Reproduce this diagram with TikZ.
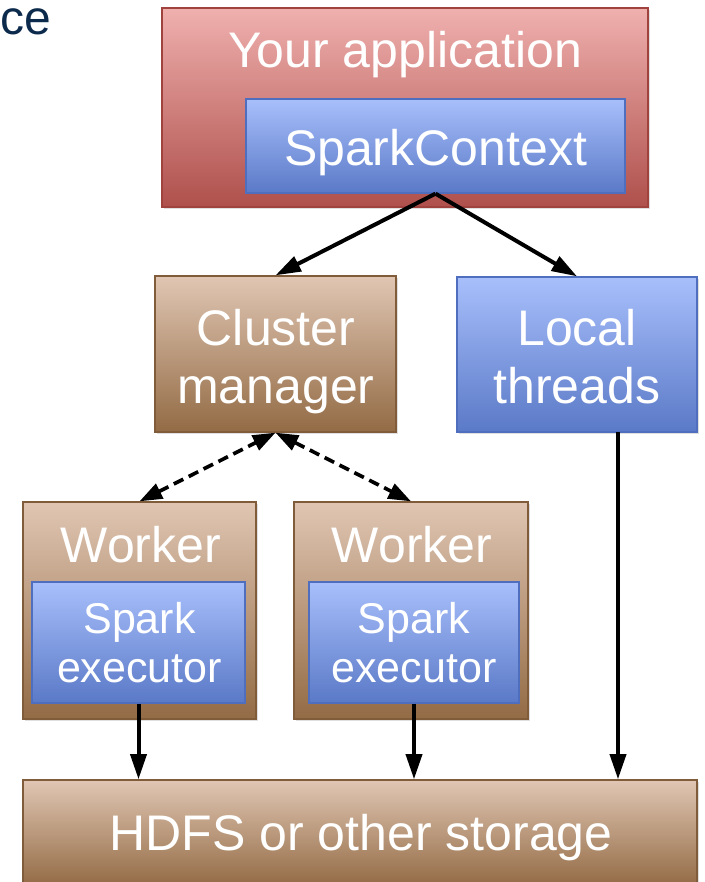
\documentclass[tikz,border=0pt]{standalone}
\usepackage{fontspec}
\setmainfont{Liberation Sans}
\usetikzlibrary{arrows.meta,shadows}

\definecolor{redtop}{RGB}{239,176,174}
\definecolor{redmid}{RGB}{225,155,152}
\definecolor{redbot}{RGB}{175,80,76}
\definecolor{redline}{RGB}{160,66,62}
\definecolor{bluetop}{RGB}{168,191,251}
\definecolor{bluemid}{RGB}{148,172,240}
\definecolor{bluebot}{RGB}{90,121,199}
\definecolor{blueline}{RGB}{80,110,190}
\definecolor{tantop}{RGB}{224,198,179}
\definecolor{tanmid}{RGB}{213,182,158}
\definecolor{tanbot}{RGB}{147,107,69}
\definecolor{tanline}{RGB}{128,92,58}
\definecolor{navy}{RGB}{12,42,76}

\tikzset{every picture/.style={line width=0.75pt}}
\tikzset{
  boxshadow/.style={drop shadow={opacity=0.25,shadow xshift=1.5pt,shadow yshift=-1.5pt}},
  redbox/.style={draw=redline,line width=1pt,top color=redtop,middle color=redmid,bottom color=redbot,boxshadow,inner sep=0pt},
  bluebox/.style={draw=blueline,line width=1pt,top color=bluetop,middle color=bluemid,bottom color=bluebot,inner sep=0pt},
  tanbox/.style={draw=tanline,line width=1pt,top color=tantop,middle color=tanmid,bottom color=tanbot,boxshadow,inner sep=0pt},
  bigtext/.style={text=white,inner sep=0pt,font=\fontsize{37.5}{43.5}\selectfont,align=center},
  smalltext/.style={text=white,inner sep=0pt,font=\fontsize{32.25}{36.75}\selectfont,align=center},
  flow/.style={line width=3pt,-{Triangle[length=19pt,width=12pt]}},
  talk/.style={line width=2.75pt,dash pattern=on 8pt off 4.5pt,{Triangle[length=17pt,width=12pt]}-{Triangle[length=17pt,width=12pt]}}
}

\begin{document}
\begin{tikzpicture}[x=0.75pt,y=0.75pt,yscale=-1,xscale=1]
	\useasboundingbox (0,0) rectangle (705,882);

	% Text Node
	\node (cetxt) at (0,22) [anchor=west,inner sep=0pt,text=navy,font=\fontsize{36}{40}\selectfont] {ce};

	%Shape: Rectangle
	\node (app) at (405,107.5) [redbox,minimum width=364.5pt,minimum height=149.25pt] {};
	% Text Node
	\node (apptxt) at (405,67) [anchor=base,bigtext] {Your application};
	%Shape: Rectangle
	\node (sc) at (435.5,146) [bluebox,minimum width=284.25pt,minimum height=70.5pt] {};
	% Text Node
	\node (sctxt) at (435.5,165) [anchor=base,bigtext] {SparkContext};

	%Shape: Rectangle
	\node (cm) at (275.5,354) [tanbox,minimum width=180.75pt,minimum height=117pt] {};
	% Text Node
	\node (cmtxt) at (276,308.5) [anchor=north,bigtext] {Cluster\\manager};
	%Shape: Rectangle
	\node (lt) at (577,354.5) [bluebox,boxshadow,minimum width=180pt,minimum height=116.25pt] {};
	% Text Node
	\node (lttxt) at (577,308.5) [anchor=north,bigtext] {Local\\threads};

	%Shape: Rectangle
	\node (w1) at (139.5,610.5) [tanbox,minimum width=174.75pt,minimum height=162.75pt] {};
	% Text Node
	\node (w1txt) at (141,562) [anchor=base,bigtext] {Worker};
	%Shape: Rectangle
	\node (ex1) at (138.5,642.5) [bluebox,minimum width=159.75pt,minimum height=90.75pt] {};
	% Text Node
	\node (ex1txt) at (139.5,601.5) [anchor=north,smalltext] {Spark\\executor};

	%Shape: Rectangle
	\node (w2) at (411,610.5) [tanbox,minimum width=175.5pt,minimum height=162.75pt] {};
	% Text Node
	\node (w2txt) at (412,562) [anchor=base,bigtext] {Worker};
	%Shape: Rectangle
	\node (ex2) at (414,642.5) [bluebox,minimum width=157.5pt,minimum height=90.75pt] {};
	% Text Node
	\node (ex2txt) at (414,601.5) [anchor=north,smalltext] {Spark\\executor};

	%Shape: Rectangle
	\node (hdfs) at (360,833) [tanbox,minimum width=505.5pt,minimum height=79.5pt] {};
	% Text Node
	\node (hdfstxt) at (361,850) [anchor=base,bigtext] {HDFS or other storage};

	\coordinate (ltout) at (618,432);

	%Straight Lines
	\draw [flow] (sc.south) -- (cm.north);
	\draw [flow] (sc.south) -- (lt.north);
	%Straight Lines
	\draw [talk] (w1.north) -- (cm.south);
	\draw [talk] (cm.south) -- (w2.north);
	%Straight Lines
	\draw [flow] (ex1.south) -- (ex1.south |- hdfs.north);
	\draw [flow] (ex2.south) -- (ex2.south |- hdfs.north);
	\draw [flow] (ltout) -- (ltout |- hdfs.north);
\end{tikzpicture}
\end{document}
